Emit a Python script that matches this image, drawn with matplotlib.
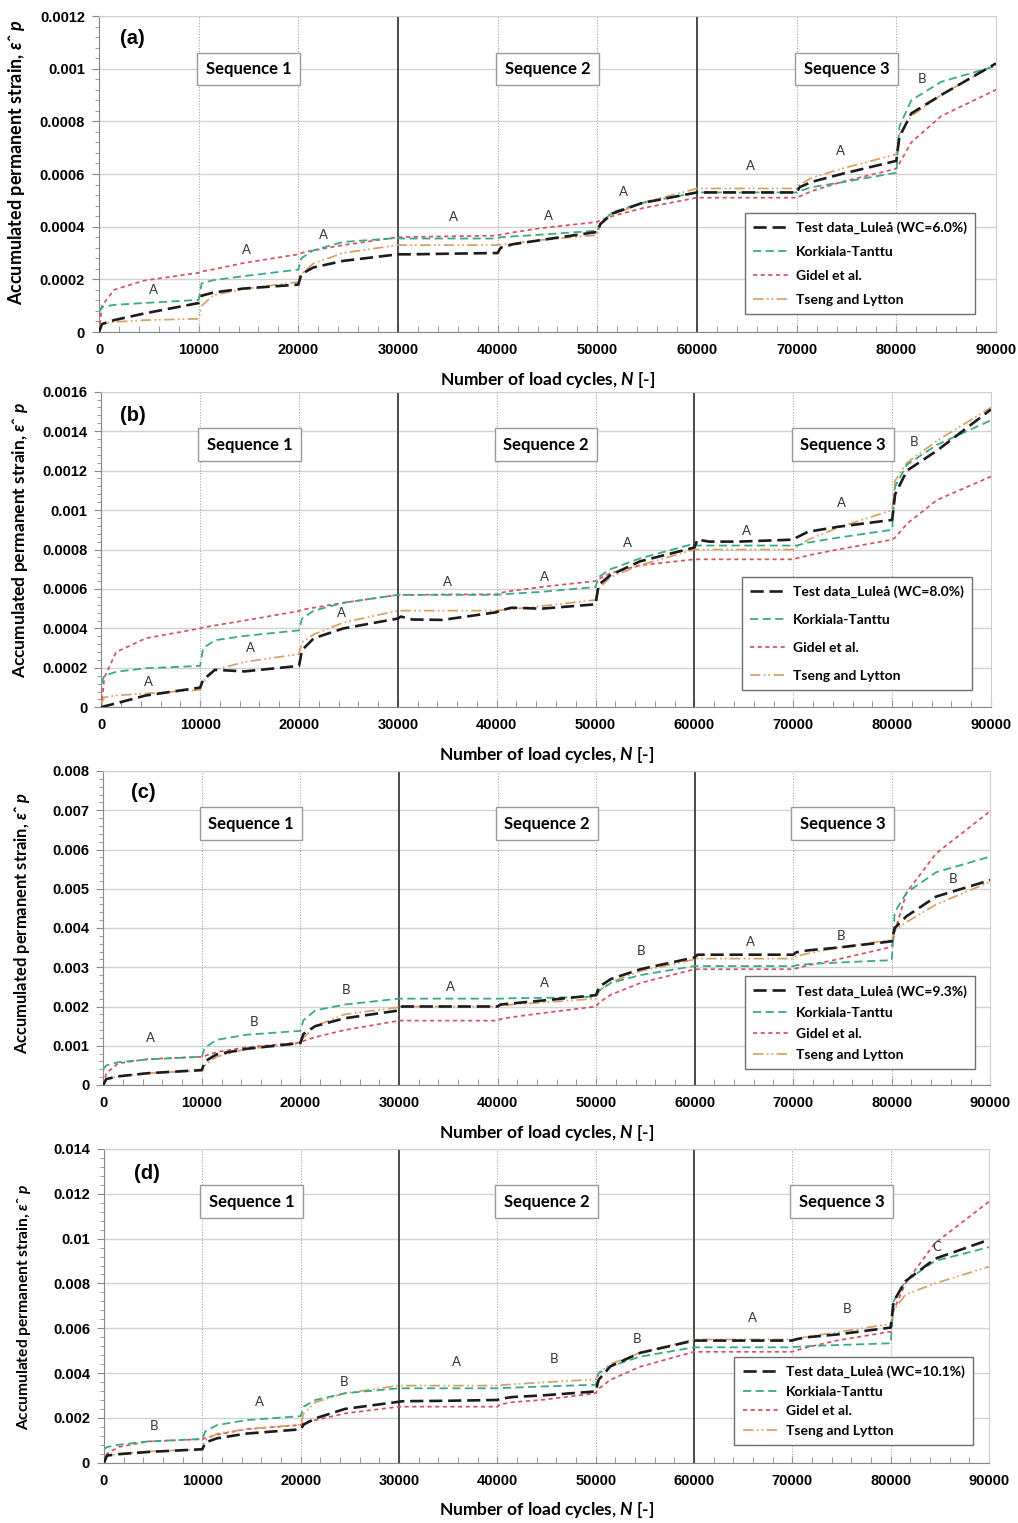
import matplotlib
matplotlib.use('Agg')
import matplotlib.pyplot as plt
from matplotlib.ticker import MultipleLocator, FuncFormatter

plt.rcParams['font.family'] = ['Liberation Sans', 'DejaVu Sans']
plt.rcParams['mathtext.fontset'] = 'custom'
plt.rcParams['mathtext.rm'] = 'Lato:bold'
plt.rcParams['mathtext.it'] = 'Lato:italic:bold'
plt.rcParams['mathtext.bf'] = 'Lato:bold'

# ---------------- data ----------------
N_CYCLES = [0,
            300, 1500, 4500, 10000,
            10300, 11500, 14500, 20000,
            20300, 21500, 24500, 30000,
            30300, 31500, 34500, 40000,
            40300, 41500, 44500, 50000,
            50300, 51500, 54500, 60000,
            60300, 61500, 64500, 70000,
            70300, 71500, 74500, 80000,
            80300, 81500, 84500, 90000]

SERIES_NAMES = ["Test data_Luleå", "Korkiala-Tanttu", "Gidel et al.", "Tseng and Lytton"]
WATER_CONTENT = ["6.0%", "8.0%", "9.3%", "10.1%"]

# panel (a)
A_TEST = [0.0, 0.30e-4, 0.45e-4, 0.70e-4, 1.10e-4, 1.38e-4, 1.50e-4, 1.65e-4, 1.80e-4,
          2.20e-4, 2.45e-4, 2.70e-4, 2.95e-4, 2.95e-4, 2.95e-4, 2.97e-4, 3.00e-4,
          3.20e-4, 3.33e-4, 3.50e-4, 3.80e-4, 4.10e-4, 4.50e-4, 4.90e-4, 5.30e-4,
          5.30e-4, 5.30e-4, 5.30e-4, 5.30e-4, 5.50e-4, 5.70e-4, 6.00e-4, 6.50e-4,
          7.40e-4, 8.30e-4, 9.00e-4, 10.20e-4]
A_KT = [0.75e-4, 0.95e-4, 1.03e-4, 1.10e-4, 1.22e-4, 1.85e-4, 1.97e-4, 2.12e-4, 2.37e-4,
        2.80e-4, 3.10e-4, 3.42e-4, 3.57e-4, 3.55e-4, 3.55e-4, 3.55e-4, 3.55e-4,
        3.60e-4, 3.63e-4, 3.70e-4, 3.85e-4, 4.10e-4, 4.55e-4, 4.90e-4, 5.30e-4,
        5.30e-4, 5.30e-4, 5.30e-4, 5.30e-4, 5.35e-4, 5.50e-4, 5.68e-4, 6.05e-4,
        7.80e-4, 8.80e-4, 9.50e-4, 10.10e-4]
A_GIDEL = [0.0, 1.00e-4, 1.60e-4, 1.95e-4, 2.25e-4, 2.30e-4, 2.38e-4, 2.62e-4, 2.95e-4,
           3.00e-4, 3.10e-4, 3.30e-4, 3.60e-4, 3.60e-4, 3.61e-4, 3.63e-4, 3.66e-4,
           3.70e-4, 3.78e-4, 3.95e-4, 4.18e-4, 4.25e-4, 4.40e-4, 4.70e-4, 5.10e-4,
           5.10e-4, 5.10e-4, 5.10e-4, 5.10e-4, 5.15e-4, 5.35e-4, 5.70e-4, 6.20e-4,
           6.40e-4, 7.20e-4, 8.20e-4, 9.20e-4]
A_TSENG = [0.0, 0.30e-4, 0.38e-4, 0.45e-4, 0.50e-4, 1.00e-4, 1.40e-4, 1.63e-4, 1.90e-4,
           2.20e-4, 2.60e-4, 3.00e-4, 3.30e-4, 3.30e-4, 3.30e-4, 3.30e-4, 3.30e-4,
           3.32e-4, 3.36e-4, 3.50e-4, 3.68e-4, 4.10e-4, 4.45e-4, 4.90e-4, 5.45e-4,
           5.45e-4, 5.45e-4, 5.45e-4, 5.45e-4, 5.60e-4, 5.85e-4, 6.20e-4, 6.75e-4,
           7.50e-4, 8.20e-4, 9.00e-4, 10.20e-4]

# panel (b)
B_TEST = [0.0, 0.05e-4, 0.20e-4, 0.60e-4, 1.00e-4, 1.40e-4, 1.90e-4, 1.82e-4, 2.10e-4,
          2.90e-4, 3.50e-4, 4.00e-4, 4.50e-4, 4.60e-4, 4.45e-4, 4.43e-4, 4.82e-4,
          4.90e-4, 5.05e-4, 5.00e-4, 5.22e-4, 6.20e-4, 6.70e-4, 7.40e-4, 8.10e-4,
          8.50e-4, 8.40e-4, 8.40e-4, 8.50e-4, 8.60e-4, 8.90e-4, 9.15e-4, 9.50e-4,
          10.80e-4, 12.00e-4, 13.00e-4, 15.10e-4]
B_KT = [1.20e-4, 1.60e-4, 1.80e-4, 1.98e-4, 2.10e-4, 3.00e-4, 3.40e-4, 3.62e-4, 3.90e-4,
        4.50e-4, 4.90e-4, 5.30e-4, 5.70e-4, 5.70e-4, 5.70e-4, 5.70e-4, 5.70e-4,
        5.72e-4, 5.76e-4, 5.85e-4, 6.10e-4, 6.60e-4, 7.00e-4, 7.55e-4, 8.30e-4,
        8.20e-4, 8.20e-4, 8.20e-4, 8.20e-4, 8.20e-4, 8.35e-4, 8.60e-4, 9.00e-4,
        11.20e-4, 12.30e-4, 13.30e-4, 14.55e-4]
B_GIDEL = [0.0, 1.50e-4, 2.80e-4, 3.50e-4, 4.00e-4, 4.05e-4, 4.15e-4, 4.40e-4, 4.88e-4,
           4.95e-4, 5.05e-4, 5.30e-4, 5.70e-4, 5.70e-4, 5.70e-4, 5.72e-4, 5.73e-4,
           5.80e-4, 5.90e-4, 6.10e-4, 6.40e-4, 6.50e-4, 6.80e-4, 7.20e-4, 7.50e-4,
           7.50e-4, 7.50e-4, 7.50e-4, 7.50e-4, 7.55e-4, 7.70e-4, 8.00e-4, 8.50e-4,
           8.60e-4, 9.30e-4, 10.50e-4, 11.70e-4]
B_TSENG = [0.20e-4, 0.50e-4, 0.60e-4, 0.70e-4, 0.88e-4, 1.30e-4, 1.90e-4, 2.30e-4, 2.70e-4,
           3.30e-4, 3.70e-4, 4.30e-4, 4.90e-4, 4.90e-4, 4.90e-4, 4.90e-4, 4.90e-4,
           4.92e-4, 4.98e-4, 5.13e-4, 5.44e-4, 6.00e-4, 6.60e-4, 7.20e-4, 8.00e-4,
           8.00e-4, 8.00e-4, 8.00e-4, 8.00e-4, 8.10e-4, 8.50e-4, 9.10e-4, 10.00e-4,
           11.50e-4, 12.40e-4, 13.50e-4, 15.20e-4]

# panel (c)
C_TEST = [0.0, 0.15e-3, 0.22e-3, 0.30e-3, 0.38e-3, 0.60e-3, 0.78e-3, 0.92e-3, 1.07e-3,
          1.30e-3, 1.50e-3, 1.70e-3, 1.90e-3, 2.00e-3, 2.00e-3, 2.00e-3, 2.00e-3,
          2.05e-3, 2.08e-3, 2.15e-3, 2.29e-3, 2.50e-3, 2.70e-3, 2.95e-3, 3.25e-3,
          3.32e-3, 3.32e-3, 3.32e-3, 3.32e-3, 3.38e-3, 3.43e-3, 3.50e-3, 3.66e-3,
          4.00e-3, 4.30e-3, 4.80e-3, 5.22e-3]
C_KT = [0.40e-3, 0.50e-3, 0.58e-3, 0.65e-3, 0.72e-3, 0.95e-3, 1.15e-3, 1.28e-3, 1.38e-3,
        1.65e-3, 1.90e-3, 2.05e-3, 2.20e-3, 2.20e-3, 2.20e-3, 2.20e-3, 2.20e-3,
        2.20e-3, 2.21e-3, 2.22e-3, 2.25e-3, 2.40e-3, 2.60e-3, 2.80e-3, 3.03e-3,
        3.03e-3, 3.03e-3, 3.03e-3, 3.03e-3, 3.05e-3, 3.08e-3, 3.12e-3, 3.18e-3,
        4.40e-3, 4.90e-3, 5.42e-3, 5.82e-3]
C_GIDEL = [0.0, 0.30e-3, 0.55e-3, 0.66e-3, 0.72e-3, 0.74e-3, 0.84e-3, 0.96e-3, 1.08e-3,
           1.12e-3, 1.22e-3, 1.40e-3, 1.64e-3, 1.64e-3, 1.64e-3, 1.64e-3, 1.64e-3,
           1.68e-3, 1.73e-3, 1.83e-3, 2.00e-3, 2.10e-3, 2.30e-3, 2.60e-3, 2.95e-3,
           2.95e-3, 2.95e-3, 2.95e-3, 2.95e-3, 2.97e-3, 3.05e-3, 3.20e-3, 3.52e-3,
           3.90e-3, 4.90e-3, 5.90e-3, 6.98e-3]
C_TSENG = [0.0, 0.15e-3, 0.22e-3, 0.30e-3, 0.37e-3, 0.50e-3, 0.72e-3, 0.92e-3, 1.05e-3,
           1.20e-3, 1.50e-3, 1.80e-3, 1.98e-3, 2.00e-3, 2.00e-3, 2.00e-3, 2.00e-3,
           2.02e-3, 2.05e-3, 2.10e-3, 2.20e-3, 2.40e-3, 2.62e-3, 2.90e-3, 3.20e-3,
           3.22e-3, 3.22e-3, 3.22e-3, 3.22e-3, 3.28e-3, 3.35e-3, 3.50e-3, 3.70e-3,
           3.95e-3, 4.15e-3, 4.60e-3, 5.18e-3]

# panel (d)
D_TEST = [0.0, 0.32e-3, 0.38e-3, 0.48e-3, 0.60e-3, 0.90e-3, 1.09e-3, 1.30e-3, 1.49e-3,
          1.70e-3, 1.98e-3, 2.40e-3, 2.72e-3, 2.74e-3, 2.75e-3, 2.76e-3, 2.80e-3,
          2.85e-3, 2.93e-3, 3.00e-3, 3.18e-3, 3.70e-3, 4.30e-3, 4.90e-3, 5.45e-3,
          5.45e-3, 5.45e-3, 5.45e-3, 5.45e-3, 5.50e-3, 5.60e-3, 5.72e-3, 6.03e-3,
          7.20e-3, 8.10e-3, 9.10e-3, 9.95e-3]
D_KT = [0.60e-3, 0.70e-3, 0.80e-3, 0.95e-3, 1.06e-3, 1.40e-3, 1.68e-3, 1.90e-3, 2.08e-3,
        2.50e-3, 2.80e-3, 3.10e-3, 3.32e-3, 3.32e-3, 3.32e-3, 3.32e-3, 3.32e-3,
        3.33e-3, 3.35e-3, 3.40e-3, 3.48e-3, 4.00e-3, 4.30e-3, 4.73e-3, 5.15e-3,
        5.15e-3, 5.15e-3, 5.15e-3, 5.15e-3, 5.17e-3, 5.20e-3, 5.25e-3, 5.33e-3,
        7.20e-3, 8.10e-3, 9.00e-3, 9.62e-3]
D_GIDEL = [0.0, 0.40e-3, 0.70e-3, 0.95e-3, 1.05e-3, 1.10e-3, 1.25e-3, 1.50e-3, 1.68e-3,
           1.80e-3, 1.90e-3, 2.20e-3, 2.50e-3, 2.50e-3, 2.50e-3, 2.50e-3, 2.50e-3,
           2.60e-3, 2.70e-3, 2.80e-3, 3.10e-3, 3.30e-3, 3.70e-3, 4.28e-3, 4.95e-3,
           4.95e-3, 4.95e-3, 4.95e-3, 4.95e-3, 5.00e-3, 5.15e-3, 5.45e-3, 5.85e-3,
           6.80e-3, 8.00e-3, 9.80e-3, 11.65e-3]
D_TSENG = [0.0, 0.30e-3, 0.40e-3, 0.50e-3, 0.60e-3, 1.00e-3, 1.30e-3, 1.50e-3, 1.70e-3,
           2.20e-3, 2.70e-3, 3.10e-3, 3.44e-3, 3.44e-3, 3.44e-3, 3.44e-3, 3.44e-3,
           3.46e-3, 3.50e-3, 3.58e-3, 3.72e-3, 4.00e-3, 4.40e-3, 4.90e-3, 5.50e-3,
           5.50e-3, 5.50e-3, 5.50e-3, 5.50e-3, 5.52e-3, 5.62e-3, 5.82e-3, 6.19e-3,
           6.80e-3, 7.50e-3, 8.00e-3, 8.75e-3]

Y_MAX = [0.0012, 0.0016, 0.008, 0.014]
Y_STEP = [0.0002, 0.0002, 0.001, 0.002]
PANEL_TAGS = ["(a)", "(b)", "(c)", "(d)"]
SEQ_LABELS = ["Sequence 1", "Sequence 2", "Sequence 3"]
SEQ_CENTERS = [15000, 45000, 75000]

# stage letters: (x, y, letter)
A_LETTERS = [(5440, 1.58e-4, 'A'), (14800, 3.10e-4, 'A'), (22550, 3.67e-4, 'A'),
             (35540, 4.37e-4, 'A'), (45120, 4.39e-4, 'A'), (52580, 5.32e-4, 'A'),
             (65360, 6.29e-4, 'A'), (74400, 6.87e-4, 'A'), (82600, 9.60e-4, 'B')]
B_LETTERS = [(4800, 1.30e-4, 'A'), (15100, 3.00e-4, 'A'), (24340, 4.76e-4, 'A'),
             (35050, 6.35e-4, 'A'), (44870, 6.62e-4, 'A'), (53240, 8.34e-4, 'A'),
             (65220, 8.95e-4, 'A'), (74900, 10.34e-4, 'A'), (82230, 13.43e-4, 'B')]
C_LETTERS = [(4830, 1.19e-3, 'A'), (15270, 1.60e-3, 'B'), (24660, 2.42e-3, 'B'),
             (35220, 2.49e-3, 'A'), (44800, 2.59e-3, 'A'), (54520, 3.42e-3, 'B'),
             (65700, 3.65e-3, 'A'), (74900, 3.79e-3, 'B'), (86200, 5.25e-3, 'B')]
D_LETTERS = [(5100, 1.64e-3, 'B'), (15850, 2.72e-3, 'A'), (24400, 3.59e-3, 'B'),
             (35850, 4.48e-3, 'A'), (45760, 4.61e-3, 'B'), (54170, 5.52e-3, 'B'),
             (65900, 6.47e-3, 'A'), (75560, 6.84e-3, 'B'), (84650, 9.61e-3, 'C')]

PANEL_SERIES = [(A_TEST, A_KT, A_GIDEL, A_TSENG),
                (B_TEST, B_KT, B_GIDEL, B_TSENG),
                (C_TEST, C_KT, C_GIDEL, C_TSENG),
                (D_TEST, D_KT, D_GIDEL, D_TSENG)]
PANEL_LETTERS = [A_LETTERS, B_LETTERS, C_LETTERS, D_LETTERS]

# ---------------- layout / style ----------------
W, H = 1018, 1523
AX_PX = [(99, 996, 16, 332), (101.3, 991, 391.7, 707.3),
         (103.3, 990.3, 771, 1085), (104, 989, 1149, 1462.7)]
YLABEL_Y = [0.538, 0.53, 0.516, 0.496]
YLABEL_SIZE = [13.0, 12.5, 11.9, 11.2]
TAG_POS = [(0.037, 0.93), (0.036, 0.926), (0.045, 0.93), (0.049, 0.923)]
LEG_ANCHOR = [(0.977, 0.057), (0.979, 0.055), (0.983, 0.051), (0.982, 0.056)]
LEG_SPACING = [0.85, 1.15, 0.65, 0.55]

STYLES = [dict(color='#1c1c1c', lw=1.9, dashes=(5, 2.2), zorder=6),
          dict(color='#3aa986', lw=1.3, dashes=(4.5, 2.5), zorder=5),
          dict(color='#d4525e', lw=1.25, dashes=(2.4, 2.0), zorder=4),
          dict(color='#d9a066', lw=1.25, dashes=(6, 2, 1, 1.6, 1, 2), zorder=4.5)]

fig = plt.figure(figsize=(W / 100, H / 100), dpi=100)
fmt = FuncFormatter(lambda v, p: '0' if abs(v) < 1e-12 else '{:g}'.format(round(v, 6)))

for i in range(4):
    l, r, t, b = AX_PX[i]
    ax = fig.add_axes([l / W, 1 - b / H, (r - l) / W, (b - t) / H])
    ax.set_xlim(0, 90000)
    ax.set_ylim(0, Y_MAX[i])
    ax.xaxis.set_major_locator(MultipleLocator(10000))
    ax.xaxis.set_minor_locator(MultipleLocator(2000))
    ax.yaxis.set_major_locator(MultipleLocator(Y_STEP[i]))
    ax.yaxis.set_minor_locator(MultipleLocator(Y_STEP[i] / 5))
    ax.yaxis.set_major_formatter(fmt)
    ax.tick_params(axis='x', which='both', direction='in', color='#888888', pad=8)
    ax.tick_params(axis='x', which='major', length=5)
    ax.tick_params(axis='x', which='minor', length=4)
    ax.tick_params(axis='y', which='both', direction='out', color='#888888', pad=5)
    ax.tick_params(axis='y', which='major', length=5)
    ax.tick_params(axis='y', which='minor', length=3)
    for lab in ax.get_xticklabels() + ax.get_yticklabels():
        lab.set_fontweight('bold')
        lab.set_fontsize(10.5)
    for s in ['left', 'bottom']:
        ax.spines[s].set_color('#888888')
    for s in ['top', 'right']:
        ax.spines[s].set_color('#d0d0d0')
    ax.set_axisbelow(True)
    ax.grid(axis='y', which='major', color='#d2d2d2', lw=1)
    for xv in [10000, 20000, 40000, 50000, 70000, 80000]:
        ax.axvline(xv, color='#a8a8a8', lw=0.8, ls=(0, (1, 1.5)), zorder=1.5)
    for xv in [30000, 60000]:
        ax.axvline(xv, color='#4a4a4a', lw=1.4, zorder=1.6)

    handles = []
    for series, st in zip(PANEL_SERIES[i], STYLES):
        ln, = ax.plot(N_CYCLES, series, color=st['color'], lw=st['lw'],
                      dashes=st['dashes'], zorder=st['zorder'])
        handles.append(ln)
    labels = ["%s (WC=%s)" % (SERIES_NAMES[0], WATER_CONTENT[i])] + SERIES_NAMES[1:]
    leg = ax.legend(handles, labels, loc='lower right', bbox_to_anchor=LEG_ANCHOR[i],
                    prop=dict(family='Lato', weight='bold', size=10),
                    frameon=True, fancybox=False, edgecolor='#707070', framealpha=1,
                    borderaxespad=0, handlelength=2.6, handletextpad=0.5,
                    labelspacing=LEG_SPACING[i], borderpad=0.6)
    leg.get_frame().set_linewidth(1)
    leg.set_zorder(10)

    for xs, lab in zip(SEQ_CENTERS, SEQ_LABELS):
        ax.text(xs, 0.832 * Y_MAX[i], lab, ha='center', va='center',
                fontsize=12, family='Lato', weight='bold', zorder=8,
                bbox=dict(boxstyle='square,pad=0.5', fc='white', ec='#9a9a9a', lw=1))
    for (xl, yl, ch) in PANEL_LETTERS[i]:
        ax.text(xl, yl, ch, ha='center', va='center', fontsize=9.5,
                family='Lato', color='#333333', zorder=8)
    ax.text(TAG_POS[i][0], TAG_POS[i][1], PANEL_TAGS[i], transform=ax.transAxes,
            ha='center', va='center', fontsize=14.5, fontweight='bold', zorder=8)

    ax.set_xlabel("Number of load cycles, $N$ [-]", fontsize=12.5, family='Lato',
                  weight='bold', labelpad=9)
    ax.set_ylabel("Accumulated permanent strain, $ε$ˆ $p$", fontsize=YLABEL_SIZE[i],
                  family='Lato', weight='bold')
    ax.yaxis.set_label_coords(-0.08, YLABEL_Y[i])

fig.savefig('out.png', dpi=100, facecolor='white')
